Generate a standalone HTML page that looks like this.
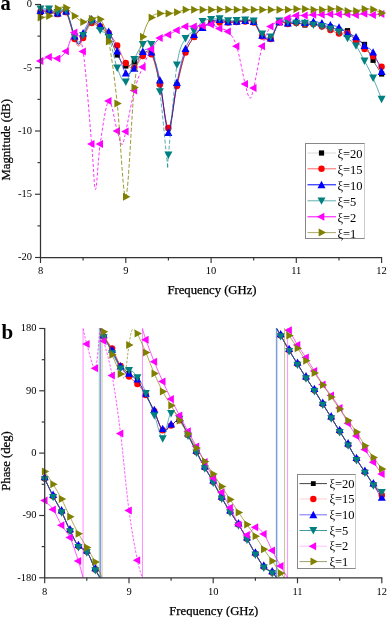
<!DOCTYPE html>
<html><head><meta charset="utf-8"><title>Chart</title>
<style>html,body{margin:0;padding:0;background:#fff;width:388px;height:617px;overflow:hidden}svg{display:block;will-change:transform}</style>
</head><body>
<svg width="388" height="617" viewBox="0 0 388 617">
<defs>
<clipPath id="clipA"><rect x="0" y="0" width="388" height="257"/></clipPath>
<clipPath id="clipB"><rect x="0" y="326" width="388" height="252"/></clipPath>
</defs>
<rect width="388" height="617" fill="#fff"/>
<g clip-path="url(#clipA)">
<path d="M40.50,12.50 C41.92,12.33 46.18,11.17 49.03,11.50 C51.87,11.83 54.71,14.33 57.55,14.50 C60.40,14.67 63.24,8.67 66.08,12.50 C68.93,16.33 72.48,32.25 74.61,37.50 C76.74,42.75 77.45,44.25 78.87,44.00 C80.29,43.75 81.01,39.83 83.14,36.00 C85.27,32.17 88.82,22.50 91.66,21.00 C94.51,19.50 97.35,24.53 100.19,27.00 C103.03,29.47 105.88,31.13 108.72,35.80 C111.56,40.47 114.41,49.97 117.25,55.00 C120.09,60.03 122.93,64.83 125.78,66.00 C128.62,67.17 131.46,64.00 134.30,62.00 C137.14,60.00 139.99,55.50 142.83,54.00 C145.67,52.50 148.52,48.17 151.36,53.00 C154.20,57.83 157.04,70.50 159.89,83.00 C162.73,95.50 165.57,127.67 168.41,128.00 C171.25,128.33 174.10,97.58 176.94,85.00 C179.78,72.42 182.62,60.50 185.47,52.50 C188.31,44.50 191.15,41.13 194.00,37.00 C196.84,32.87 199.68,30.12 202.52,27.70 C205.37,25.28 208.21,23.70 211.05,22.50 C213.89,21.30 216.73,20.50 219.58,20.50 C222.42,20.50 225.26,22.28 228.10,22.50 C230.95,22.72 233.79,22.05 236.63,21.80 C239.48,21.55 242.32,20.97 245.16,21.00 C248.00,21.03 250.85,19.50 253.69,22.00 C256.53,24.50 259.37,33.25 262.21,36.00 C265.06,38.75 267.90,40.83 270.74,38.50 C273.58,36.17 276.43,24.42 279.27,22.00 C282.11,19.58 284.96,23.92 287.80,24.00 C290.64,24.08 293.48,22.33 296.33,22.50 C299.17,22.67 302.01,24.83 304.85,25.00 C307.69,25.17 310.54,23.42 313.38,23.50 C316.22,23.58 319.07,24.92 321.91,25.50 C324.75,26.08 327.59,26.25 330.44,27.00 C333.28,27.75 336.12,29.38 338.96,30.00 C341.81,30.62 344.65,29.03 347.49,30.70 C350.33,32.37 353.17,37.72 356.02,40.00 C358.86,42.28 361.70,41.02 364.55,44.40 C367.39,47.78 370.23,55.37 373.07,60.30 C375.92,65.23 380.18,71.72 381.60,74.00" fill="none" stroke="#000000" stroke-width="0.6"/>
<rect x="37.9" y="9.9" width="5.2" height="5.2" fill="#000000"/>
<rect x="46.4" y="8.9" width="5.2" height="5.2" fill="#000000"/>
<rect x="55.0" y="11.9" width="5.2" height="5.2" fill="#000000"/>
<rect x="63.5" y="9.9" width="5.2" height="5.2" fill="#000000"/>
<rect x="72.0" y="34.9" width="5.2" height="5.2" fill="#000000"/>
<rect x="80.5" y="33.4" width="5.2" height="5.2" fill="#000000"/>
<rect x="89.1" y="18.4" width="5.2" height="5.2" fill="#000000"/>
<rect x="97.6" y="24.4" width="5.2" height="5.2" fill="#000000"/>
<rect x="106.1" y="33.2" width="5.2" height="5.2" fill="#000000"/>
<rect x="114.6" y="52.4" width="5.2" height="5.2" fill="#000000"/>
<rect x="123.2" y="63.4" width="5.2" height="5.2" fill="#000000"/>
<rect x="131.7" y="59.4" width="5.2" height="5.2" fill="#000000"/>
<rect x="140.2" y="51.4" width="5.2" height="5.2" fill="#000000"/>
<rect x="148.8" y="50.4" width="5.2" height="5.2" fill="#000000"/>
<rect x="157.3" y="80.4" width="5.2" height="5.2" fill="#000000"/>
<rect x="165.8" y="125.4" width="5.2" height="5.2" fill="#000000"/>
<rect x="174.3" y="82.4" width="5.2" height="5.2" fill="#000000"/>
<rect x="182.9" y="49.9" width="5.2" height="5.2" fill="#000000"/>
<rect x="191.4" y="34.4" width="5.2" height="5.2" fill="#000000"/>
<rect x="199.9" y="25.1" width="5.2" height="5.2" fill="#000000"/>
<rect x="208.5" y="19.9" width="5.2" height="5.2" fill="#000000"/>
<rect x="217.0" y="17.9" width="5.2" height="5.2" fill="#000000"/>
<rect x="225.5" y="19.9" width="5.2" height="5.2" fill="#000000"/>
<rect x="234.0" y="19.2" width="5.2" height="5.2" fill="#000000"/>
<rect x="242.6" y="18.4" width="5.2" height="5.2" fill="#000000"/>
<rect x="251.1" y="19.4" width="5.2" height="5.2" fill="#000000"/>
<rect x="259.6" y="33.4" width="5.2" height="5.2" fill="#000000"/>
<rect x="268.1" y="35.9" width="5.2" height="5.2" fill="#000000"/>
<rect x="276.7" y="19.4" width="5.2" height="5.2" fill="#000000"/>
<rect x="285.2" y="21.4" width="5.2" height="5.2" fill="#000000"/>
<rect x="293.7" y="19.9" width="5.2" height="5.2" fill="#000000"/>
<rect x="302.3" y="22.4" width="5.2" height="5.2" fill="#000000"/>
<rect x="310.8" y="20.9" width="5.2" height="5.2" fill="#000000"/>
<rect x="319.3" y="22.9" width="5.2" height="5.2" fill="#000000"/>
<rect x="327.8" y="24.4" width="5.2" height="5.2" fill="#000000"/>
<rect x="336.4" y="27.4" width="5.2" height="5.2" fill="#000000"/>
<rect x="344.9" y="28.1" width="5.2" height="5.2" fill="#000000"/>
<rect x="353.4" y="37.4" width="5.2" height="5.2" fill="#000000"/>
<rect x="361.9" y="41.8" width="5.2" height="5.2" fill="#000000"/>
<rect x="370.5" y="57.7" width="5.2" height="5.2" fill="#000000"/>
<rect x="379.0" y="71.4" width="5.2" height="5.2" fill="#000000"/>
<path d="M40.50,11.50 C41.92,11.42 46.18,10.58 49.03,11.00 C51.87,11.42 54.71,13.83 57.55,14.00 C60.40,14.17 63.24,7.83 66.08,12.00 C68.93,16.17 72.48,33.33 74.61,39.00 C76.74,44.67 77.45,46.17 78.87,46.00 C80.29,45.83 81.01,41.83 83.14,38.00 C85.27,34.17 88.82,24.92 91.66,23.00 C94.51,21.08 97.35,24.83 100.19,26.50 C103.03,28.17 105.88,29.83 108.72,33.00 C111.56,36.17 114.41,40.50 117.25,45.50 C120.09,50.50 122.93,59.30 125.78,63.00 C128.62,66.70 131.46,68.87 134.30,67.70 C137.14,66.53 139.99,58.25 142.83,56.00 C145.67,53.75 148.52,49.45 151.36,54.20 C154.20,58.95 157.04,72.20 159.89,84.50 C162.73,96.80 165.57,127.75 168.41,128.00 C171.25,128.25 174.10,98.58 176.94,86.00 C179.78,73.42 182.62,60.67 185.47,52.50 C188.31,44.33 191.15,41.13 194.00,37.00 C196.84,32.87 199.68,30.12 202.52,27.70 C205.37,25.28 208.21,23.37 211.05,22.50 C213.89,21.63 216.73,22.50 219.58,22.50 C222.42,22.50 225.26,22.58 228.10,22.50 C230.95,22.42 233.79,22.17 236.63,22.00 C239.48,21.83 242.32,21.42 245.16,21.50 C248.00,21.58 250.85,20.00 253.69,22.50 C256.53,25.00 259.37,33.75 262.21,36.50 C265.06,39.25 267.90,41.33 270.74,39.00 C273.58,36.67 276.43,25.00 279.27,22.50 C282.11,20.00 284.96,23.92 287.80,24.00 C290.64,24.08 293.48,23.00 296.33,23.00 C299.17,23.00 302.01,23.83 304.85,24.00 C307.69,24.17 310.54,23.58 313.38,24.00 C316.22,24.42 319.07,25.50 321.91,26.50 C324.75,27.50 327.59,28.83 330.44,30.00 C333.28,31.17 336.12,33.00 338.96,33.50 C341.81,34.00 344.65,31.75 347.49,33.00 C350.33,34.25 353.17,38.33 356.02,41.00 C358.86,43.67 361.70,46.47 364.55,49.00 C367.39,51.53 370.23,53.25 373.07,56.20 C375.92,59.15 380.18,64.95 381.60,66.70" fill="none" stroke="#ff0000" stroke-width="0.6"/>
<circle cx="40.5" cy="11.5" r="3.2" fill="#ff0000"/>
<circle cx="49.0" cy="11.0" r="3.2" fill="#ff0000"/>
<circle cx="57.6" cy="14.0" r="3.2" fill="#ff0000"/>
<circle cx="66.1" cy="12.0" r="3.2" fill="#ff0000"/>
<circle cx="74.6" cy="39.0" r="3.2" fill="#ff0000"/>
<circle cx="83.1" cy="38.0" r="3.2" fill="#ff0000"/>
<circle cx="91.7" cy="23.0" r="3.2" fill="#ff0000"/>
<circle cx="100.2" cy="26.5" r="3.2" fill="#ff0000"/>
<circle cx="108.7" cy="33.0" r="3.2" fill="#ff0000"/>
<circle cx="117.2" cy="45.5" r="3.2" fill="#ff0000"/>
<circle cx="125.8" cy="63.0" r="3.2" fill="#ff0000"/>
<circle cx="134.3" cy="67.7" r="3.2" fill="#ff0000"/>
<circle cx="142.8" cy="56.0" r="3.2" fill="#ff0000"/>
<circle cx="151.4" cy="54.2" r="3.2" fill="#ff0000"/>
<circle cx="159.9" cy="84.5" r="3.2" fill="#ff0000"/>
<circle cx="168.4" cy="128.0" r="3.2" fill="#ff0000"/>
<circle cx="176.9" cy="86.0" r="3.2" fill="#ff0000"/>
<circle cx="185.5" cy="52.5" r="3.2" fill="#ff0000"/>
<circle cx="194.0" cy="37.0" r="3.2" fill="#ff0000"/>
<circle cx="202.5" cy="27.7" r="3.2" fill="#ff0000"/>
<circle cx="211.1" cy="22.5" r="3.2" fill="#ff0000"/>
<circle cx="219.6" cy="22.5" r="3.2" fill="#ff0000"/>
<circle cx="228.1" cy="22.5" r="3.2" fill="#ff0000"/>
<circle cx="236.6" cy="22.0" r="3.2" fill="#ff0000"/>
<circle cx="245.2" cy="21.5" r="3.2" fill="#ff0000"/>
<circle cx="253.7" cy="22.5" r="3.2" fill="#ff0000"/>
<circle cx="262.2" cy="36.5" r="3.2" fill="#ff0000"/>
<circle cx="270.7" cy="39.0" r="3.2" fill="#ff0000"/>
<circle cx="279.3" cy="22.5" r="3.2" fill="#ff0000"/>
<circle cx="287.8" cy="24.0" r="3.2" fill="#ff0000"/>
<circle cx="296.3" cy="23.0" r="3.2" fill="#ff0000"/>
<circle cx="304.9" cy="24.0" r="3.2" fill="#ff0000"/>
<circle cx="313.4" cy="24.0" r="3.2" fill="#ff0000"/>
<circle cx="321.9" cy="26.5" r="3.2" fill="#ff0000"/>
<circle cx="330.4" cy="30.0" r="3.2" fill="#ff0000"/>
<circle cx="339.0" cy="33.5" r="3.2" fill="#ff0000"/>
<circle cx="347.5" cy="33.0" r="3.2" fill="#ff0000"/>
<circle cx="356.0" cy="41.0" r="3.2" fill="#ff0000"/>
<circle cx="364.5" cy="49.0" r="3.2" fill="#ff0000"/>
<circle cx="373.1" cy="56.2" r="3.2" fill="#ff0000"/>
<circle cx="381.6" cy="66.7" r="3.2" fill="#ff0000"/>
<path d="M40.50,10.50 C41.92,10.42 46.18,9.58 49.03,10.00 C51.87,10.42 54.71,12.83 57.55,13.00 C60.40,13.17 63.24,7.17 66.08,11.00 C68.93,14.83 72.48,30.50 74.61,36.00 C76.74,41.50 77.45,44.50 78.87,44.00 C80.29,43.50 81.01,37.17 83.14,33.00 C85.27,28.83 88.82,20.25 91.66,19.00 C94.51,17.75 97.35,23.40 100.19,25.50 C103.03,27.60 105.88,27.35 108.72,31.60 C111.56,35.85 114.41,44.10 117.25,51.00 C120.09,57.90 122.93,70.10 125.78,73.00 C128.62,75.90 131.46,71.97 134.30,68.40 C137.14,64.83 139.99,54.30 142.83,51.60 C145.67,48.90 148.52,47.47 151.36,52.20 C154.20,56.93 157.04,66.62 159.89,80.00 C162.73,93.38 165.57,132.08 168.41,132.50 C171.25,132.92 174.10,96.47 176.94,82.50 C179.78,68.53 182.62,56.70 185.47,48.70 C188.31,40.70 191.15,38.00 194.00,34.50 C196.84,31.00 199.68,29.78 202.52,27.70 C205.37,25.62 208.21,23.37 211.05,22.00 C213.89,20.63 216.73,19.52 219.58,19.50 C222.42,19.48 225.26,21.60 228.10,21.90 C230.95,22.20 233.79,21.52 236.63,21.30 C239.48,21.08 242.32,20.55 245.16,20.60 C248.00,20.65 250.85,19.13 253.69,21.60 C256.53,24.07 259.37,32.67 262.21,35.40 C265.06,38.13 267.90,40.25 270.74,38.00 C273.58,35.75 276.43,24.37 279.27,21.90 C282.11,19.43 284.96,23.42 287.80,23.20 C290.64,22.98 293.48,20.72 296.33,20.60 C299.17,20.48 302.01,22.35 304.85,22.50 C307.69,22.65 310.54,21.42 313.38,21.50 C316.22,21.58 319.07,22.42 321.91,23.00 C324.75,23.58 327.59,24.28 330.44,25.00 C333.28,25.72 336.12,25.88 338.96,27.30 C341.81,28.72 344.65,31.90 347.49,33.50 C350.33,35.10 353.17,34.87 356.02,36.90 C358.86,38.93 361.70,43.15 364.55,45.70 C367.39,48.25 370.23,47.88 373.07,52.20 C375.92,56.52 380.18,68.37 381.60,71.60" fill="none" stroke="#0000ff" stroke-width="0.6"/>
<polygon points="40.5,6.5 36.5,13.9 44.5,13.9" fill="#0000ff"/>
<polygon points="49.0,6.0 45.0,13.4 53.0,13.4" fill="#0000ff"/>
<polygon points="57.6,9.0 53.6,16.4 61.6,16.4" fill="#0000ff"/>
<polygon points="66.1,7.0 62.1,14.4 70.1,14.4" fill="#0000ff"/>
<polygon points="74.6,32.0 70.6,39.4 78.6,39.4" fill="#0000ff"/>
<polygon points="83.1,29.0 79.1,36.4 87.1,36.4" fill="#0000ff"/>
<polygon points="91.7,15.0 87.7,22.4 95.7,22.4" fill="#0000ff"/>
<polygon points="100.2,21.5 96.2,28.9 104.2,28.9" fill="#0000ff"/>
<polygon points="108.7,27.6 104.7,35.0 112.7,35.0" fill="#0000ff"/>
<polygon points="117.2,47.0 113.2,54.4 121.2,54.4" fill="#0000ff"/>
<polygon points="125.8,69.0 121.8,76.4 129.8,76.4" fill="#0000ff"/>
<polygon points="134.3,64.4 130.3,71.8 138.3,71.8" fill="#0000ff"/>
<polygon points="142.8,47.6 138.8,55.0 146.8,55.0" fill="#0000ff"/>
<polygon points="151.4,48.2 147.4,55.6 155.4,55.6" fill="#0000ff"/>
<polygon points="159.9,76.0 155.9,83.4 163.9,83.4" fill="#0000ff"/>
<polygon points="168.4,128.5 164.4,135.9 172.4,135.9" fill="#0000ff"/>
<polygon points="176.9,78.5 172.9,85.9 180.9,85.9" fill="#0000ff"/>
<polygon points="185.5,44.7 181.5,52.1 189.5,52.1" fill="#0000ff"/>
<polygon points="194.0,30.5 190.0,37.9 198.0,37.9" fill="#0000ff"/>
<polygon points="202.5,23.7 198.5,31.1 206.5,31.1" fill="#0000ff"/>
<polygon points="211.1,18.0 207.1,25.4 215.1,25.4" fill="#0000ff"/>
<polygon points="219.6,15.5 215.6,22.9 223.6,22.9" fill="#0000ff"/>
<polygon points="228.1,17.9 224.1,25.3 232.1,25.3" fill="#0000ff"/>
<polygon points="236.6,17.3 232.6,24.7 240.6,24.7" fill="#0000ff"/>
<polygon points="245.2,16.6 241.2,24.0 249.2,24.0" fill="#0000ff"/>
<polygon points="253.7,17.6 249.7,25.0 257.7,25.0" fill="#0000ff"/>
<polygon points="262.2,31.4 258.2,38.8 266.2,38.8" fill="#0000ff"/>
<polygon points="270.7,34.0 266.7,41.4 274.7,41.4" fill="#0000ff"/>
<polygon points="279.3,17.9 275.3,25.3 283.3,25.3" fill="#0000ff"/>
<polygon points="287.8,19.2 283.8,26.6 291.8,26.6" fill="#0000ff"/>
<polygon points="296.3,16.6 292.3,24.0 300.3,24.0" fill="#0000ff"/>
<polygon points="304.9,18.5 300.9,25.9 308.9,25.9" fill="#0000ff"/>
<polygon points="313.4,17.5 309.4,24.9 317.4,24.9" fill="#0000ff"/>
<polygon points="321.9,19.0 317.9,26.4 325.9,26.4" fill="#0000ff"/>
<polygon points="330.4,21.0 326.4,28.4 334.4,28.4" fill="#0000ff"/>
<polygon points="339.0,23.3 335.0,30.7 343.0,30.7" fill="#0000ff"/>
<polygon points="347.5,29.5 343.5,36.9 351.5,36.9" fill="#0000ff"/>
<polygon points="356.0,32.9 352.0,40.3 360.0,40.3" fill="#0000ff"/>
<polygon points="364.5,41.7 360.5,49.1 368.5,49.1" fill="#0000ff"/>
<polygon points="373.1,48.2 369.1,55.6 377.1,55.6" fill="#0000ff"/>
<polygon points="381.6,67.6 377.6,75.0 385.6,75.0" fill="#0000ff"/>
<path d="M40.50,9.00 C41.92,9.00 46.18,8.42 49.03,9.00 C51.87,9.58 54.71,12.25 57.55,12.50 C60.40,12.75 63.24,6.42 66.08,10.50 C68.93,14.58 72.48,31.75 74.61,37.00 C76.74,42.25 77.45,42.25 78.87,42.00 C80.29,41.75 81.01,38.83 83.14,35.50 C85.27,32.17 88.82,22.87 91.66,22.00 C94.51,21.13 97.35,27.73 100.19,30.30 C103.03,32.87 105.88,31.12 108.72,37.40" fill="none" stroke="#008080" stroke-width="0.65"/>
<path d="M108.72,37.40 C111.56,43.68 114.41,60.57 117.25,68.00" fill="none" stroke="#008080" stroke-width="0.65" stroke-dasharray="4,2"/>
<path d="M117.25,68.00 C120.09,75.43 122.93,83.45 125.78,82.00 C128.62,80.55 131.46,65.55 134.30,59.30 C137.14,53.05 139.99,46.97 142.83,44.50 C145.67,42.03 148.52,36.65 151.36,44.50" fill="none" stroke="#008080" stroke-width="0.65"/>
<path d="M151.36,44.50 C154.20,52.35 157.26,72.10 159.89,91.60 C162.51,111.10 165.71,150.93 167.13,161.50 C168.55,172.07 166.78,171.12 168.41,155.00 C170.05,138.88 174.10,84.23 176.94,64.80" fill="none" stroke="#008080" stroke-width="0.65" stroke-dasharray="4,2"/>
<path d="M176.94,64.80 C179.78,45.37 182.62,44.03 185.47,38.40 C188.31,32.77 191.15,33.85 194.00,31.00 C196.84,28.15 199.68,23.25 202.52,21.30 C205.37,19.35 208.21,19.73 211.05,19.30 C213.89,18.87 216.73,18.48 219.58,18.70 C222.42,18.92 225.26,20.30 228.10,20.60 C230.95,20.90 233.79,20.60 236.63,20.50 C239.48,20.40 242.32,19.92 245.16,20.00 C248.00,20.08 250.85,18.67 253.69,21.00 C256.53,23.33 259.37,31.33 262.21,34.00 C265.06,36.67 267.90,39.17 270.74,37.00 C273.58,34.83 276.43,23.50 279.27,21.00 C282.11,18.50 284.96,21.63 287.80,22.00 C290.64,22.37 293.48,23.00 296.33,23.20 C299.17,23.40 302.01,22.90 304.85,23.20 C307.69,23.50 310.54,24.45 313.38,25.00 C316.22,25.55 319.07,25.83 321.91,26.50 C324.75,27.17 327.59,28.08 330.44,29.00 C333.28,29.92 336.12,30.45 338.96,32.00 C341.81,33.55 344.65,36.00 347.49,38.30 C350.33,40.60 353.17,42.02 356.02,45.80 C358.86,49.58 361.70,55.63 364.55,61.00 C367.39,66.37 370.23,71.63 373.07,78.00 C375.92,84.37 380.18,95.67 381.60,99.20" fill="none" stroke="#008080" stroke-width="0.65"/>
<polygon points="40.5,13.0 36.5,5.6 44.5,5.6" fill="#008080"/>
<polygon points="49.0,13.0 45.0,5.6 53.0,5.6" fill="#008080"/>
<polygon points="57.6,16.5 53.6,9.1 61.6,9.1" fill="#008080"/>
<polygon points="66.1,14.5 62.1,7.1 70.1,7.1" fill="#008080"/>
<polygon points="74.6,41.0 70.6,33.6 78.6,33.6" fill="#008080"/>
<polygon points="83.1,39.5 79.1,32.1 87.1,32.1" fill="#008080"/>
<polygon points="91.7,26.0 87.7,18.6 95.7,18.6" fill="#008080"/>
<polygon points="100.2,34.3 96.2,26.9 104.2,26.9" fill="#008080"/>
<polygon points="108.7,41.4 104.7,34.0 112.7,34.0" fill="#008080"/>
<polygon points="117.2,72.0 113.2,64.6 121.2,64.6" fill="#008080"/>
<polygon points="125.8,86.0 121.8,78.6 129.8,78.6" fill="#008080"/>
<polygon points="134.3,63.3 130.3,55.9 138.3,55.9" fill="#008080"/>
<polygon points="142.8,48.5 138.8,41.1 146.8,41.1" fill="#008080"/>
<polygon points="151.4,48.5 147.4,41.1 155.4,41.1" fill="#008080"/>
<polygon points="159.9,95.6 155.9,88.2 163.9,88.2" fill="#008080"/>
<polygon points="168.4,159.0 164.4,151.6 172.4,151.6" fill="#008080"/>
<polygon points="176.9,68.8 172.9,61.4 180.9,61.4" fill="#008080"/>
<polygon points="185.5,42.4 181.5,35.0 189.5,35.0" fill="#008080"/>
<polygon points="194.0,35.0 190.0,27.6 198.0,27.6" fill="#008080"/>
<polygon points="202.5,25.3 198.5,17.9 206.5,17.9" fill="#008080"/>
<polygon points="211.1,23.3 207.1,15.9 215.1,15.9" fill="#008080"/>
<polygon points="219.6,22.7 215.6,15.3 223.6,15.3" fill="#008080"/>
<polygon points="228.1,24.6 224.1,17.2 232.1,17.2" fill="#008080"/>
<polygon points="236.6,24.5 232.6,17.1 240.6,17.1" fill="#008080"/>
<polygon points="245.2,24.0 241.2,16.6 249.2,16.6" fill="#008080"/>
<polygon points="253.7,25.0 249.7,17.6 257.7,17.6" fill="#008080"/>
<polygon points="262.2,38.0 258.2,30.6 266.2,30.6" fill="#008080"/>
<polygon points="270.7,41.0 266.7,33.6 274.7,33.6" fill="#008080"/>
<polygon points="279.3,25.0 275.3,17.6 283.3,17.6" fill="#008080"/>
<polygon points="287.8,26.0 283.8,18.6 291.8,18.6" fill="#008080"/>
<polygon points="296.3,27.2 292.3,19.8 300.3,19.8" fill="#008080"/>
<polygon points="304.9,27.2 300.9,19.8 308.9,19.8" fill="#008080"/>
<polygon points="313.4,29.0 309.4,21.6 317.4,21.6" fill="#008080"/>
<polygon points="321.9,30.5 317.9,23.1 325.9,23.1" fill="#008080"/>
<polygon points="330.4,33.0 326.4,25.6 334.4,25.6" fill="#008080"/>
<polygon points="339.0,36.0 335.0,28.6 343.0,28.6" fill="#008080"/>
<polygon points="347.5,42.3 343.5,34.9 351.5,34.9" fill="#008080"/>
<polygon points="356.0,49.8 352.0,42.4 360.0,42.4" fill="#008080"/>
<polygon points="364.5,65.0 360.5,57.6 368.5,57.6" fill="#008080"/>
<polygon points="373.1,82.0 369.1,74.6 377.1,74.6" fill="#008080"/>
<polygon points="381.6,103.2 377.6,95.8 385.6,95.8" fill="#008080"/>
<path d="M40.50,60.90 C41.92,60.25 46.18,57.42 49.03,57.00 C51.87,56.58 54.71,59.35 57.55,58.40 C60.40,57.45 63.24,55.60 66.08,51.30 C68.93,47.00 71.77,32.55 74.61,32.60" fill="none" stroke="#ff00ff" stroke-width="0.8"/>
<path d="M74.61,32.60 C77.45,32.65 80.30,33.03 83.14,51.60 C85.98,70.17 89.60,121.02 91.66,144.00 C93.73,166.98 94.08,189.50 95.50,189.50 C96.92,189.50 97.99,158.75 100.19,144.00 C102.40,129.25 105.88,103.17 108.72,101.00 C111.56,98.83 115.04,123.75 117.25,131.00 C119.45,138.25 120.52,144.40 121.94,144.50 C123.36,144.60 123.71,140.60 125.78,131.60 C127.84,122.60 131.46,101.27 134.30,90.50 C137.14,79.73 139.99,73.92 142.83,67.00 C145.67,60.08 148.52,53.83 151.36,49.00" fill="none" stroke="#ff00ff" stroke-width="0.8" stroke-dasharray="3,2"/>
<path d="M151.36,49.00 C154.20,44.17 157.04,40.37 159.89,38.00 C162.73,35.63 165.57,36.08 168.41,34.80 C171.25,33.52 174.10,31.70 176.94,30.30 C179.78,28.90 182.62,27.05 185.47,26.40 C188.31,25.75 191.15,26.50 194.00,26.40 C196.84,26.30 199.68,26.12 202.52,25.80 C205.37,25.48 208.21,24.07 211.05,24.50 C213.89,24.93 216.73,27.22 219.58,28.40 C222.42,29.58 225.26,28.63 228.10,31.60" fill="none" stroke="#ff00ff" stroke-width="0.8"/>
<path d="M228.10,31.60 C230.95,34.57 233.79,37.45 236.63,46.20 C239.48,54.95 242.96,75.47 245.16,84.10 C247.36,92.73 248.43,97.35 249.85,98.00 C251.27,98.65 251.63,96.62 253.69,88.00 C255.75,79.38 259.37,56.57 262.21,46.30 C265.06,36.03 267.90,30.47 270.74,26.40" fill="none" stroke="#ff00ff" stroke-width="0.8" stroke-dasharray="3,2"/>
<path d="M270.74,26.40 C273.58,22.33 276.43,23.30 279.27,21.90 C282.11,20.50 284.96,19.07 287.80,18.00 C290.64,16.93 293.48,15.92 296.33,15.50 C299.17,15.08 302.01,15.62 304.85,15.50 C307.69,15.38 310.54,14.92 313.38,14.80 C316.22,14.68 319.07,14.90 321.91,14.80 C324.75,14.70 327.59,14.28 330.44,14.20 C333.28,14.12 336.12,14.28 338.96,14.30 C341.81,14.32 344.65,14.18 347.49,14.30 C350.33,14.42 353.17,15.10 356.02,15.00 C358.86,14.90 361.70,13.70 364.55,13.70 C367.39,13.70 370.23,14.95 373.07,15.00 C375.92,15.05 380.18,14.17 381.60,14.00" fill="none" stroke="#ff00ff" stroke-width="0.8"/>
<polygon points="35.9,60.9 43.3,56.9 43.3,64.9" fill="#ff00ff"/>
<polygon points="44.4,57.0 51.8,53.0 51.8,61.0" fill="#ff00ff"/>
<polygon points="53.0,58.4 60.4,54.4 60.4,62.4" fill="#ff00ff"/>
<polygon points="61.5,51.3 68.9,47.3 68.9,55.3" fill="#ff00ff"/>
<polygon points="70.0,32.6 77.4,28.6 77.4,36.6" fill="#ff00ff"/>
<polygon points="78.5,51.6 85.9,47.6 85.9,55.6" fill="#ff00ff"/>
<polygon points="87.1,144.0 94.5,140.0 94.5,148.0" fill="#ff00ff"/>
<polygon points="95.6,144.0 103.0,140.0 103.0,148.0" fill="#ff00ff"/>
<polygon points="104.1,101.0 111.5,97.0 111.5,105.0" fill="#ff00ff"/>
<polygon points="112.6,131.0 120.0,127.0 120.0,135.0" fill="#ff00ff"/>
<polygon points="121.2,131.6 128.6,127.6 128.6,135.6" fill="#ff00ff"/>
<polygon points="129.7,90.5 137.1,86.5 137.1,94.5" fill="#ff00ff"/>
<polygon points="138.2,67.0 145.6,63.0 145.6,71.0" fill="#ff00ff"/>
<polygon points="146.8,49.0 154.2,45.0 154.2,53.0" fill="#ff00ff"/>
<polygon points="155.3,38.0 162.7,34.0 162.7,42.0" fill="#ff00ff"/>
<polygon points="163.8,34.8 171.2,30.8 171.2,38.8" fill="#ff00ff"/>
<polygon points="172.3,30.3 179.7,26.3 179.7,34.3" fill="#ff00ff"/>
<polygon points="180.9,26.4 188.3,22.4 188.3,30.4" fill="#ff00ff"/>
<polygon points="189.4,26.4 196.8,22.4 196.8,30.4" fill="#ff00ff"/>
<polygon points="197.9,25.8 205.3,21.8 205.3,29.8" fill="#ff00ff"/>
<polygon points="206.5,24.5 213.9,20.5 213.9,28.5" fill="#ff00ff"/>
<polygon points="215.0,28.4 222.4,24.4 222.4,32.4" fill="#ff00ff"/>
<polygon points="223.5,31.6 230.9,27.6 230.9,35.6" fill="#ff00ff"/>
<polygon points="232.0,46.2 239.4,42.2 239.4,50.2" fill="#ff00ff"/>
<polygon points="240.6,84.1 248.0,80.1 248.0,88.1" fill="#ff00ff"/>
<polygon points="249.1,88.0 256.5,84.0 256.5,92.0" fill="#ff00ff"/>
<polygon points="257.6,46.3 265.0,42.3 265.0,50.3" fill="#ff00ff"/>
<polygon points="266.1,26.4 273.5,22.4 273.5,30.4" fill="#ff00ff"/>
<polygon points="274.7,21.9 282.1,17.9 282.1,25.9" fill="#ff00ff"/>
<polygon points="283.2,18.0 290.6,14.0 290.6,22.0" fill="#ff00ff"/>
<polygon points="291.7,15.5 299.1,11.5 299.1,19.5" fill="#ff00ff"/>
<polygon points="300.3,15.5 307.7,11.5 307.7,19.5" fill="#ff00ff"/>
<polygon points="308.8,14.8 316.2,10.8 316.2,18.8" fill="#ff00ff"/>
<polygon points="317.3,14.8 324.7,10.8 324.7,18.8" fill="#ff00ff"/>
<polygon points="325.8,14.2 333.2,10.2 333.2,18.2" fill="#ff00ff"/>
<polygon points="334.4,14.3 341.8,10.3 341.8,18.3" fill="#ff00ff"/>
<polygon points="342.9,14.3 350.3,10.3 350.3,18.3" fill="#ff00ff"/>
<polygon points="351.4,15.0 358.8,11.0 358.8,19.0" fill="#ff00ff"/>
<polygon points="359.9,13.7 367.3,9.7 367.3,17.7" fill="#ff00ff"/>
<polygon points="368.5,15.0 375.9,11.0 375.9,19.0" fill="#ff00ff"/>
<polygon points="377.0,14.0 384.4,10.0 384.4,18.0" fill="#ff00ff"/>
<path d="M40.50,17.40 C41.92,17.18 46.18,17.60 49.03,16.10 C51.87,14.60 54.71,9.80 57.55,8.40 C60.40,7.00 63.24,6.42 66.08,7.70 C68.93,8.98 71.77,13.73 74.61,16.10 C77.45,18.47 80.30,21.47 83.14,21.90 C85.98,22.33 88.82,19.13 91.66,18.70 C94.51,18.27 97.35,15.52 100.19,19.30 C103.03,23.08 105.88,27.35 108.72,41.40" fill="none" stroke="#808000" stroke-width="0.8"/>
<path d="M108.72,41.40 C111.56,55.45 114.41,77.70 117.25,103.60 C120.09,129.50 122.93,199.50 125.78,196.80 C128.62,194.10 131.46,114.08 134.30,87.40 C137.14,60.72 139.99,48.37 142.83,36.70" fill="none" stroke="#808000" stroke-width="0.8" stroke-dasharray="4,2"/>
<path d="M142.83,36.70 C145.67,25.03 148.52,21.27 151.36,17.40 C154.20,13.53 157.04,14.15 159.89,13.50 C162.73,12.85 165.57,13.72 168.41,13.50 C171.25,13.28 174.10,12.83 176.94,12.20 C179.78,11.57 182.62,10.12 185.47,9.70 C188.31,9.28 191.15,9.70 194.00,9.70 C196.84,9.70 199.68,9.70 202.52,9.70 C205.37,9.70 208.21,9.73 211.05,9.70 C213.89,9.67 216.73,9.53 219.58,9.50 C222.42,9.47 225.26,9.47 228.10,9.50 C230.95,9.53 233.79,9.67 236.63,9.70 C239.48,9.73 242.32,9.70 245.16,9.70 C248.00,9.70 250.85,9.70 253.69,9.70 C256.53,9.70 259.37,9.70 262.21,9.70 C265.06,9.70 267.90,9.70 270.74,9.70 C273.58,9.70 276.43,9.70 279.27,9.70 C282.11,9.70 284.96,9.82 287.80,9.70 C290.64,9.58 293.48,9.12 296.33,9.00 C299.17,8.88 302.01,8.88 304.85,9.00 C307.69,9.12 310.54,9.58 313.38,9.70 C316.22,9.82 319.07,9.82 321.91,9.70 C324.75,9.58 327.59,9.12 330.44,9.00 C333.28,8.88 336.12,8.68 338.96,9.00 C341.81,9.32 344.65,10.58 347.49,10.90 C350.33,11.22 353.17,11.23 356.02,10.90 C358.86,10.57 361.70,9.12 364.55,8.90 C367.39,8.68 370.23,8.92 373.07,9.60 C375.92,10.28 380.18,12.43 381.60,13.00" fill="none" stroke="#808000" stroke-width="0.8"/>
<polygon points="45.1,17.4 37.7,13.4 37.7,21.4" fill="#808000"/>
<polygon points="53.6,16.1 46.2,12.1 46.2,20.1" fill="#808000"/>
<polygon points="62.2,8.4 54.8,4.4 54.8,12.4" fill="#808000"/>
<polygon points="70.7,7.7 63.3,3.7 63.3,11.7" fill="#808000"/>
<polygon points="79.2,16.1 71.8,12.1 71.8,20.1" fill="#808000"/>
<polygon points="87.7,21.9 80.3,17.9 80.3,25.9" fill="#808000"/>
<polygon points="96.3,18.7 88.9,14.7 88.9,22.7" fill="#808000"/>
<polygon points="104.8,19.3 97.4,15.3 97.4,23.3" fill="#808000"/>
<polygon points="113.3,41.4 105.9,37.4 105.9,45.4" fill="#808000"/>
<polygon points="121.8,103.6 114.4,99.6 114.4,107.6" fill="#808000"/>
<polygon points="130.4,196.8 123.0,192.8 123.0,200.8" fill="#808000"/>
<polygon points="138.9,87.4 131.5,83.4 131.5,91.4" fill="#808000"/>
<polygon points="147.4,36.7 140.0,32.7 140.0,40.7" fill="#808000"/>
<polygon points="156.0,17.4 148.6,13.4 148.6,21.4" fill="#808000"/>
<polygon points="164.5,13.5 157.1,9.5 157.1,17.5" fill="#808000"/>
<polygon points="173.0,13.5 165.6,9.5 165.6,17.5" fill="#808000"/>
<polygon points="181.5,12.2 174.1,8.2 174.1,16.2" fill="#808000"/>
<polygon points="190.1,9.7 182.7,5.7 182.7,13.7" fill="#808000"/>
<polygon points="198.6,9.7 191.2,5.7 191.2,13.7" fill="#808000"/>
<polygon points="207.1,9.7 199.7,5.7 199.7,13.7" fill="#808000"/>
<polygon points="215.7,9.7 208.2,5.7 208.2,13.7" fill="#808000"/>
<polygon points="224.2,9.5 216.8,5.5 216.8,13.5" fill="#808000"/>
<polygon points="232.7,9.5 225.3,5.5 225.3,13.5" fill="#808000"/>
<polygon points="241.2,9.7 233.8,5.7 233.8,13.7" fill="#808000"/>
<polygon points="249.8,9.7 242.4,5.7 242.4,13.7" fill="#808000"/>
<polygon points="258.3,9.7 250.9,5.7 250.9,13.7" fill="#808000"/>
<polygon points="266.8,9.7 259.4,5.7 259.4,13.7" fill="#808000"/>
<polygon points="275.3,9.7 267.9,5.7 267.9,13.7" fill="#808000"/>
<polygon points="283.9,9.7 276.5,5.7 276.5,13.7" fill="#808000"/>
<polygon points="292.4,9.7 285.0,5.7 285.0,13.7" fill="#808000"/>
<polygon points="300.9,9.0 293.5,5.0 293.5,13.0" fill="#808000"/>
<polygon points="309.5,9.0 302.1,5.0 302.1,13.0" fill="#808000"/>
<polygon points="318.0,9.7 310.6,5.7 310.6,13.7" fill="#808000"/>
<polygon points="326.5,9.7 319.1,5.7 319.1,13.7" fill="#808000"/>
<polygon points="335.0,9.0 327.6,5.0 327.6,13.0" fill="#808000"/>
<polygon points="343.6,9.0 336.2,5.0 336.2,13.0" fill="#808000"/>
<polygon points="352.1,10.9 344.7,6.9 344.7,14.9" fill="#808000"/>
<polygon points="360.6,10.9 353.2,6.9 353.2,14.9" fill="#808000"/>
<polygon points="369.1,8.9 361.7,4.9 361.7,12.9" fill="#808000"/>
<polygon points="377.7,9.6 370.3,5.6 370.3,13.6" fill="#808000"/>
<polygon points="386.2,13.0 378.8,9.0 378.8,17.0" fill="#808000"/>
</g>
<g clip-path="url(#clipB)">
<path d="M44.70,478.50 C46.10,481.45 50.32,490.68 53.13,496.20 C55.94,501.72 58.75,505.88 61.55,511.60 C64.36,517.32 67.17,524.72 69.98,530.50 C72.79,536.28 75.60,542.78 78.41,546.30 C81.22,549.82 84.03,547.73 86.84,551.60 C89.65,555.47 93.05,565.13 95.26,569.50 C97.48,573.87 99.34,576.42 100.15,577.80" fill="none" stroke="#000000" stroke-width="0.6"/>
<path d="M100.15,328.50 C100.74,329.83 101.70,332.75 103.69,336.50 C105.69,340.25 109.31,346.08 112.12,351.00 C114.93,355.92 117.74,362.27 120.55,366.00 C123.36,369.73 126.17,371.07 128.98,373.40 C131.78,375.73 134.59,376.40 137.40,380.00 C140.21,383.60 143.02,389.78 145.83,395.00 C148.64,400.22 151.45,405.42 154.26,411.30 C157.07,417.18 159.88,427.92 162.69,430.30 C165.49,432.68 168.30,427.28 171.11,425.60 C173.92,423.92 176.73,418.67 179.54,420.20 C182.35,421.73 185.16,429.52 187.97,434.80 C190.78,440.08 193.59,446.43 196.40,451.90 C199.20,457.37 202.01,462.62 204.82,467.60 C207.63,472.58 210.44,476.75 213.25,481.80 C216.06,486.85 218.87,492.93 221.68,497.90 C224.49,502.87 227.30,507.15 230.10,511.60 C232.91,516.05 235.72,520.07 238.53,524.60 C241.34,529.13 244.15,533.93 246.96,538.80 C249.77,543.67 252.58,549.13 255.39,553.80 C258.20,558.47 261.01,563.68 263.81,566.80 C266.62,569.92 270.11,570.67 272.24,572.50 C274.38,574.33 275.89,576.92 276.62,577.80" fill="none" stroke="#000000" stroke-width="0.6"/>
<path d="M276.62,328.50 C277.30,329.67 278.59,331.87 280.67,335.50 C282.75,339.13 286.29,345.55 289.10,350.30 C291.91,355.05 294.72,359.45 297.53,364.00 C300.33,368.55 303.14,373.22 305.95,377.60 C308.76,381.98 311.57,385.90 314.38,390.30 C317.19,394.70 320.00,399.45 322.81,404.00 C325.62,408.55 328.43,413.05 331.24,417.60 C334.04,422.15 336.85,426.78 339.66,431.30 C342.47,435.82 345.28,440.03 348.09,444.70 C350.90,449.37 353.71,454.75 356.52,459.30 C359.33,463.85 362.14,467.78 364.95,472.00 C367.75,476.22 370.56,480.72 373.37,484.60 C376.18,488.48 380.40,493.52 381.80,495.30" fill="none" stroke="#000000" stroke-width="0.6"/>
<rect x="42.3" y="476.1" width="4.8" height="4.8" fill="#000000"/>
<rect x="50.7" y="493.8" width="4.8" height="4.8" fill="#000000"/>
<rect x="59.2" y="509.2" width="4.8" height="4.8" fill="#000000"/>
<rect x="67.6" y="528.1" width="4.8" height="4.8" fill="#000000"/>
<rect x="76.0" y="543.9" width="4.8" height="4.8" fill="#000000"/>
<rect x="84.4" y="549.2" width="4.8" height="4.8" fill="#000000"/>
<rect x="92.9" y="567.1" width="4.8" height="4.8" fill="#000000"/>
<rect x="101.3" y="334.1" width="4.8" height="4.8" fill="#000000"/>
<rect x="109.7" y="348.6" width="4.8" height="4.8" fill="#000000"/>
<rect x="118.1" y="363.6" width="4.8" height="4.8" fill="#000000"/>
<rect x="126.6" y="371.0" width="4.8" height="4.8" fill="#000000"/>
<rect x="135.0" y="377.6" width="4.8" height="4.8" fill="#000000"/>
<rect x="143.4" y="392.6" width="4.8" height="4.8" fill="#000000"/>
<rect x="151.9" y="408.9" width="4.8" height="4.8" fill="#000000"/>
<rect x="160.3" y="427.9" width="4.8" height="4.8" fill="#000000"/>
<rect x="168.7" y="423.2" width="4.8" height="4.8" fill="#000000"/>
<rect x="177.1" y="417.8" width="4.8" height="4.8" fill="#000000"/>
<rect x="185.6" y="432.4" width="4.8" height="4.8" fill="#000000"/>
<rect x="194.0" y="449.5" width="4.8" height="4.8" fill="#000000"/>
<rect x="202.4" y="465.2" width="4.8" height="4.8" fill="#000000"/>
<rect x="210.8" y="479.4" width="4.8" height="4.8" fill="#000000"/>
<rect x="219.3" y="495.5" width="4.8" height="4.8" fill="#000000"/>
<rect x="227.7" y="509.2" width="4.8" height="4.8" fill="#000000"/>
<rect x="236.1" y="522.2" width="4.8" height="4.8" fill="#000000"/>
<rect x="244.6" y="536.4" width="4.8" height="4.8" fill="#000000"/>
<rect x="253.0" y="551.4" width="4.8" height="4.8" fill="#000000"/>
<rect x="261.4" y="564.4" width="4.8" height="4.8" fill="#000000"/>
<rect x="269.8" y="570.1" width="4.8" height="4.8" fill="#000000"/>
<rect x="278.3" y="333.1" width="4.8" height="4.8" fill="#000000"/>
<rect x="286.7" y="347.9" width="4.8" height="4.8" fill="#000000"/>
<rect x="295.1" y="361.6" width="4.8" height="4.8" fill="#000000"/>
<rect x="303.6" y="375.2" width="4.8" height="4.8" fill="#000000"/>
<rect x="312.0" y="387.9" width="4.8" height="4.8" fill="#000000"/>
<rect x="320.4" y="401.6" width="4.8" height="4.8" fill="#000000"/>
<rect x="328.8" y="415.2" width="4.8" height="4.8" fill="#000000"/>
<rect x="337.3" y="428.9" width="4.8" height="4.8" fill="#000000"/>
<rect x="345.7" y="442.3" width="4.8" height="4.8" fill="#000000"/>
<rect x="354.1" y="456.9" width="4.8" height="4.8" fill="#000000"/>
<rect x="362.5" y="469.6" width="4.8" height="4.8" fill="#000000"/>
<rect x="371.0" y="482.2" width="4.8" height="4.8" fill="#000000"/>
<rect x="379.4" y="492.9" width="4.8" height="4.8" fill="#000000"/>
<path d="M44.70,478.50 C46.10,481.45 50.32,490.68 53.13,496.20 C55.94,501.72 58.75,505.88 61.55,511.60 C64.36,517.32 67.17,524.72 69.98,530.50 C72.79,536.28 75.60,542.78 78.41,546.30 C81.22,549.82 84.03,547.73 86.84,551.60 C89.65,555.47 93.05,565.13 95.26,569.50 C97.48,573.87 99.34,576.42 100.15,577.80" fill="none" stroke="#ff0000" stroke-width="0.6"/>
<path d="M100.15,328.50 C100.74,329.83 101.70,333.17 103.69,336.50 C105.69,339.83 109.31,343.58 112.12,348.50 C114.93,353.42 117.74,361.32 120.55,366.00 C123.36,370.68 126.17,373.60 128.98,376.60 C131.78,379.60 134.59,380.93 137.40,384.00 C140.21,387.07 143.02,390.45 145.83,395.00 C148.64,399.55 151.45,405.42 154.26,411.30 C157.07,417.18 159.88,427.92 162.69,430.30 C165.49,432.68 168.30,427.28 171.11,425.60 C173.92,423.92 176.73,418.67 179.54,420.20 C182.35,421.73 185.16,429.52 187.97,434.80 C190.78,440.08 193.59,446.43 196.40,451.90 C199.20,457.37 202.01,462.62 204.82,467.60 C207.63,472.58 210.44,476.75 213.25,481.80 C216.06,486.85 218.87,492.93 221.68,497.90 C224.49,502.87 227.30,507.15 230.10,511.60 C232.91,516.05 235.72,520.07 238.53,524.60 C241.34,529.13 244.15,533.93 246.96,538.80 C249.77,543.67 252.58,549.13 255.39,553.80 C258.20,558.47 261.01,563.68 263.81,566.80 C266.62,569.92 270.11,570.67 272.24,572.50 C274.38,574.33 275.89,576.92 276.62,577.80" fill="none" stroke="#ff0000" stroke-width="0.6"/>
<path d="M276.62,328.50 C277.30,329.67 278.59,331.87 280.67,335.50 C282.75,339.13 286.29,345.55 289.10,350.30 C291.91,355.05 294.72,359.45 297.53,364.00 C300.33,368.55 303.14,373.22 305.95,377.60 C308.76,381.98 311.57,385.90 314.38,390.30 C317.19,394.70 320.00,399.45 322.81,404.00 C325.62,408.55 328.43,413.05 331.24,417.60 C334.04,422.15 336.85,426.78 339.66,431.30 C342.47,435.82 345.28,440.03 348.09,444.70 C350.90,449.37 353.71,454.75 356.52,459.30 C359.33,463.85 362.14,467.78 364.95,472.00 C367.75,476.22 370.56,480.72 373.37,484.60 C376.18,488.48 380.40,493.52 381.80,495.30" fill="none" stroke="#ff0000" stroke-width="0.6"/>
<circle cx="44.7" cy="478.5" r="3.2" fill="#ff0000"/>
<circle cx="53.1" cy="496.2" r="3.2" fill="#ff0000"/>
<circle cx="61.6" cy="511.6" r="3.2" fill="#ff0000"/>
<circle cx="70.0" cy="530.5" r="3.2" fill="#ff0000"/>
<circle cx="78.4" cy="546.3" r="3.2" fill="#ff0000"/>
<circle cx="86.8" cy="551.6" r="3.2" fill="#ff0000"/>
<circle cx="95.3" cy="569.5" r="3.2" fill="#ff0000"/>
<circle cx="103.7" cy="336.5" r="3.2" fill="#ff0000"/>
<circle cx="112.1" cy="348.5" r="3.2" fill="#ff0000"/>
<circle cx="120.5" cy="366.0" r="3.2" fill="#ff0000"/>
<circle cx="129.0" cy="376.6" r="3.2" fill="#ff0000"/>
<circle cx="137.4" cy="384.0" r="3.2" fill="#ff0000"/>
<circle cx="145.8" cy="395.0" r="3.2" fill="#ff0000"/>
<circle cx="154.3" cy="411.3" r="3.2" fill="#ff0000"/>
<circle cx="162.7" cy="430.3" r="3.2" fill="#ff0000"/>
<circle cx="171.1" cy="425.6" r="3.2" fill="#ff0000"/>
<circle cx="179.5" cy="420.2" r="3.2" fill="#ff0000"/>
<circle cx="188.0" cy="434.8" r="3.2" fill="#ff0000"/>
<circle cx="196.4" cy="451.9" r="3.2" fill="#ff0000"/>
<circle cx="204.8" cy="467.6" r="3.2" fill="#ff0000"/>
<circle cx="213.2" cy="481.8" r="3.2" fill="#ff0000"/>
<circle cx="221.7" cy="497.9" r="3.2" fill="#ff0000"/>
<circle cx="230.1" cy="511.6" r="3.2" fill="#ff0000"/>
<circle cx="238.5" cy="524.6" r="3.2" fill="#ff0000"/>
<circle cx="247.0" cy="538.8" r="3.2" fill="#ff0000"/>
<circle cx="255.4" cy="553.8" r="3.2" fill="#ff0000"/>
<circle cx="263.8" cy="566.8" r="3.2" fill="#ff0000"/>
<circle cx="272.2" cy="572.5" r="3.2" fill="#ff0000"/>
<circle cx="280.7" cy="335.5" r="3.2" fill="#ff0000"/>
<circle cx="289.1" cy="350.3" r="3.2" fill="#ff0000"/>
<circle cx="297.5" cy="364.0" r="3.2" fill="#ff0000"/>
<circle cx="306.0" cy="377.6" r="3.2" fill="#ff0000"/>
<circle cx="314.4" cy="390.3" r="3.2" fill="#ff0000"/>
<circle cx="322.8" cy="404.0" r="3.2" fill="#ff0000"/>
<circle cx="331.2" cy="417.6" r="3.2" fill="#ff0000"/>
<circle cx="339.7" cy="431.3" r="3.2" fill="#ff0000"/>
<circle cx="348.1" cy="444.7" r="3.2" fill="#ff0000"/>
<circle cx="356.5" cy="459.3" r="3.2" fill="#ff0000"/>
<circle cx="364.9" cy="472.0" r="3.2" fill="#ff0000"/>
<circle cx="373.4" cy="484.6" r="3.2" fill="#ff0000"/>
<circle cx="381.8" cy="495.3" r="3.2" fill="#ff0000"/>
<path d="M44.70,478.50 C46.10,481.45 50.32,490.68 53.13,496.20 C55.94,501.72 58.75,505.88 61.55,511.60 C64.36,517.32 67.17,524.72 69.98,530.50 C72.79,536.28 75.60,542.78 78.41,546.30 C81.22,549.82 84.03,547.73 86.84,551.60 C89.65,555.47 92.99,565.13 95.26,569.50 C97.54,573.87 99.62,576.42 100.49,577.80" fill="none" stroke="#0000ff" stroke-width="0.6"/>
<path d="M100.49,577.80 L100.49,328.50" fill="none" stroke="#0000ff" stroke-width="0.45"/>
<path d="M100.49,328.50 C101.02,329.83 101.75,332.75 103.69,336.50 C105.63,340.25 109.31,345.80 112.12,351.00 C114.93,356.20 117.74,363.70 120.55,367.70 C123.36,371.70 126.17,372.82 128.98,375.00 C131.78,377.18 134.59,377.47 137.40,380.80 C140.21,384.13 143.02,389.92 145.83,395.00 C148.64,400.08 151.45,405.42 154.26,411.30 C157.07,417.18 159.88,427.92 162.69,430.30 C165.49,432.68 168.30,427.28 171.11,425.60 C173.92,423.92 176.73,418.67 179.54,420.20 C182.35,421.73 185.16,429.52 187.97,434.80 C190.78,440.08 193.59,446.43 196.40,451.90 C199.20,457.37 202.01,462.62 204.82,467.60 C207.63,472.58 210.44,476.75 213.25,481.80 C216.06,486.85 218.87,492.93 221.68,497.90 C224.49,502.87 227.30,507.15 230.10,511.60 C232.91,516.05 235.72,520.07 238.53,524.60 C241.34,529.13 244.15,533.93 246.96,538.80 C249.77,543.67 252.58,549.13 255.39,553.80 C258.20,558.47 261.01,563.68 263.81,566.80 C266.62,569.92 270.07,570.67 272.24,572.50 C274.42,574.33 276.11,576.92 276.88,577.80" fill="none" stroke="#0000ff" stroke-width="0.6"/>
<path d="M276.88,577.80 L276.88,328.50" fill="none" stroke="#0000ff" stroke-width="0.45"/>
<path d="M276.88,328.50 C277.51,329.67 278.63,331.87 280.67,335.50 C282.71,339.13 286.29,345.55 289.10,350.30 C291.91,355.05 294.72,359.45 297.53,364.00 C300.33,368.55 303.14,373.22 305.95,377.60 C308.76,381.98 311.57,385.90 314.38,390.30 C317.19,394.70 320.00,399.45 322.81,404.00 C325.62,408.55 328.43,413.05 331.24,417.60 C334.04,422.15 336.85,426.78 339.66,431.30 C342.47,435.82 345.28,440.03 348.09,444.70 C350.90,449.37 353.71,454.75 356.52,459.30 C359.33,463.85 362.14,467.78 364.95,472.00 C367.75,476.22 370.56,480.10 373.37,484.60 C376.18,489.10 380.40,496.60 381.80,499.00" fill="none" stroke="#0000ff" stroke-width="0.6"/>
<polygon points="44.7,472.9 40.7,480.3 48.7,480.3" fill="#0000ff"/>
<polygon points="53.1,490.6 49.1,498.0 57.1,498.0" fill="#0000ff"/>
<polygon points="61.6,506.0 57.6,513.4 65.6,513.4" fill="#0000ff"/>
<polygon points="70.0,524.9 66.0,532.3 74.0,532.3" fill="#0000ff"/>
<polygon points="78.4,540.7 74.4,548.1 82.4,548.1" fill="#0000ff"/>
<polygon points="86.8,546.0 82.8,553.4 90.8,553.4" fill="#0000ff"/>
<polygon points="95.3,563.9 91.3,571.3 99.3,571.3" fill="#0000ff"/>
<polygon points="103.7,330.9 99.7,338.3 107.7,338.3" fill="#0000ff"/>
<polygon points="112.1,345.4 108.1,352.8 116.1,352.8" fill="#0000ff"/>
<polygon points="120.5,362.1 116.5,369.5 124.5,369.5" fill="#0000ff"/>
<polygon points="129.0,369.4 125.0,376.8 133.0,376.8" fill="#0000ff"/>
<polygon points="137.4,375.2 133.4,382.6 141.4,382.6" fill="#0000ff"/>
<polygon points="145.8,389.4 141.8,396.8 149.8,396.8" fill="#0000ff"/>
<polygon points="154.3,405.7 150.3,413.1 158.3,413.1" fill="#0000ff"/>
<polygon points="162.7,424.7 158.7,432.1 166.7,432.1" fill="#0000ff"/>
<polygon points="171.1,420.0 167.1,427.4 175.1,427.4" fill="#0000ff"/>
<polygon points="179.5,414.6 175.5,422.0 183.5,422.0" fill="#0000ff"/>
<polygon points="188.0,429.2 184.0,436.6 192.0,436.6" fill="#0000ff"/>
<polygon points="196.4,446.3 192.4,453.7 200.4,453.7" fill="#0000ff"/>
<polygon points="204.8,462.0 200.8,469.4 208.8,469.4" fill="#0000ff"/>
<polygon points="213.2,476.2 209.2,483.6 217.2,483.6" fill="#0000ff"/>
<polygon points="221.7,492.3 217.7,499.7 225.7,499.7" fill="#0000ff"/>
<polygon points="230.1,506.0 226.1,513.4 234.1,513.4" fill="#0000ff"/>
<polygon points="238.5,519.0 234.5,526.4 242.5,526.4" fill="#0000ff"/>
<polygon points="247.0,533.2 243.0,540.6 251.0,540.6" fill="#0000ff"/>
<polygon points="255.4,548.2 251.4,555.6 259.4,555.6" fill="#0000ff"/>
<polygon points="263.8,561.2 259.8,568.6 267.8,568.6" fill="#0000ff"/>
<polygon points="272.2,566.9 268.2,574.3 276.2,574.3" fill="#0000ff"/>
<polygon points="280.7,329.9 276.7,337.3 284.7,337.3" fill="#0000ff"/>
<polygon points="289.1,344.7 285.1,352.1 293.1,352.1" fill="#0000ff"/>
<polygon points="297.5,358.4 293.5,365.8 301.5,365.8" fill="#0000ff"/>
<polygon points="306.0,372.0 302.0,379.4 310.0,379.4" fill="#0000ff"/>
<polygon points="314.4,384.7 310.4,392.1 318.4,392.1" fill="#0000ff"/>
<polygon points="322.8,398.4 318.8,405.8 326.8,405.8" fill="#0000ff"/>
<polygon points="331.2,412.0 327.2,419.4 335.2,419.4" fill="#0000ff"/>
<polygon points="339.7,425.7 335.7,433.1 343.7,433.1" fill="#0000ff"/>
<polygon points="348.1,439.1 344.1,446.5 352.1,446.5" fill="#0000ff"/>
<polygon points="356.5,453.7 352.5,461.1 360.5,461.1" fill="#0000ff"/>
<polygon points="364.9,466.4 360.9,473.8 368.9,473.8" fill="#0000ff"/>
<polygon points="373.4,479.0 369.4,486.4 377.4,486.4" fill="#0000ff"/>
<polygon points="381.8,493.4 377.8,500.8 385.8,500.8" fill="#0000ff"/>
<path d="M44.70,478.50 C46.10,481.45 50.32,490.68 53.13,496.20 C55.94,501.72 58.75,505.88 61.55,511.60 C64.36,517.32 67.17,524.72 69.98,530.50 C72.79,536.28 75.60,542.78 78.41,546.30 C81.22,549.82 84.03,547.73 86.84,551.60 C89.65,555.47 93.19,565.13 95.26,569.50 C97.34,573.87 98.64,576.42 99.31,577.80" fill="none" stroke="#008080" stroke-width="0.6"/>
<path d="M99.31,577.80 L99.31,328.50" fill="none" stroke="#008080" stroke-width="0.45"/>
<path d="M99.31,328.50 C100.04,329.83 101.56,332.50 103.69,336.50 C105.83,340.50 109.31,347.30 112.12,352.50 C114.93,357.70 117.74,364.92 120.55,367.70 C123.36,370.48 126.17,367.72 128.98,369.20 C131.78,370.68 134.59,372.73 137.40,376.60 C140.21,380.47 143.02,386.08 145.83,392.40 C148.64,398.72 151.45,406.97 154.26,414.50 C157.07,422.03 159.88,437.95 162.69,437.60 C165.49,437.25 168.30,415.67 171.11,412.40 C173.92,409.13 176.73,414.27 179.54,418.00 C182.35,421.73 185.16,429.15 187.97,434.80 C190.78,440.45 193.59,446.43 196.40,451.90 C199.20,457.37 202.01,462.62 204.82,467.60 C207.63,472.58 210.44,476.75 213.25,481.80 C216.06,486.85 218.87,492.93 221.68,497.90 C224.49,502.87 227.30,507.15 230.10,511.60 C232.91,516.05 235.72,520.07 238.53,524.60 C241.34,529.13 244.15,533.93 246.96,538.80 C249.77,543.67 252.58,549.13 255.39,553.80 C258.20,558.47 261.01,563.68 263.81,566.80 C266.62,569.92 270.16,570.67 272.24,572.50 C274.32,574.33 275.61,576.92 276.29,577.80" fill="none" stroke="#008080" stroke-width="0.6"/>
<path d="M276.29,577.80 L276.29,328.50" fill="none" stroke="#008080" stroke-width="0.45"/>
<path d="M276.29,328.50 C277.02,329.67 278.54,331.87 280.67,335.50 C282.80,339.13 286.29,345.55 289.10,350.30 C291.91,355.05 294.72,359.45 297.53,364.00 C300.33,368.55 303.14,373.22 305.95,377.60 C308.76,381.98 311.57,385.90 314.38,390.30 C317.19,394.70 320.00,399.45 322.81,404.00 C325.62,408.55 328.43,413.05 331.24,417.60 C334.04,422.15 336.85,426.78 339.66,431.30 C342.47,435.82 345.28,440.03 348.09,444.70 C350.90,449.37 353.71,454.75 356.52,459.30 C359.33,463.85 362.14,467.78 364.95,472.00 C367.75,476.22 370.56,481.37 373.37,484.60 C376.18,487.83 380.40,490.27 381.80,491.40" fill="none" stroke="#008080" stroke-width="0.6"/>
<polygon points="44.7,483.6 40.7,476.2 48.7,476.2" fill="#008080"/>
<polygon points="53.1,501.3 49.1,493.9 57.1,493.9" fill="#008080"/>
<polygon points="61.6,516.7 57.6,509.3 65.6,509.3" fill="#008080"/>
<polygon points="70.0,535.6 66.0,528.2 74.0,528.2" fill="#008080"/>
<polygon points="78.4,551.4 74.4,544.0 82.4,544.0" fill="#008080"/>
<polygon points="86.8,556.7 82.8,549.3 90.8,549.3" fill="#008080"/>
<polygon points="95.3,574.6 91.3,567.2 99.3,567.2" fill="#008080"/>
<polygon points="103.7,341.6 99.7,334.2 107.7,334.2" fill="#008080"/>
<polygon points="112.1,357.6 108.1,350.2 116.1,350.2" fill="#008080"/>
<polygon points="120.5,372.8 116.5,365.4 124.5,365.4" fill="#008080"/>
<polygon points="129.0,374.3 125.0,366.9 133.0,366.9" fill="#008080"/>
<polygon points="137.4,381.7 133.4,374.3 141.4,374.3" fill="#008080"/>
<polygon points="145.8,397.5 141.8,390.1 149.8,390.1" fill="#008080"/>
<polygon points="154.3,419.6 150.3,412.2 158.3,412.2" fill="#008080"/>
<polygon points="162.7,442.7 158.7,435.3 166.7,435.3" fill="#008080"/>
<polygon points="171.1,417.5 167.1,410.1 175.1,410.1" fill="#008080"/>
<polygon points="179.5,423.1 175.5,415.7 183.5,415.7" fill="#008080"/>
<polygon points="188.0,439.9 184.0,432.5 192.0,432.5" fill="#008080"/>
<polygon points="196.4,457.0 192.4,449.6 200.4,449.6" fill="#008080"/>
<polygon points="204.8,472.7 200.8,465.3 208.8,465.3" fill="#008080"/>
<polygon points="213.2,486.9 209.2,479.5 217.2,479.5" fill="#008080"/>
<polygon points="221.7,503.0 217.7,495.6 225.7,495.6" fill="#008080"/>
<polygon points="230.1,516.7 226.1,509.3 234.1,509.3" fill="#008080"/>
<polygon points="238.5,529.7 234.5,522.3 242.5,522.3" fill="#008080"/>
<polygon points="247.0,543.9 243.0,536.5 251.0,536.5" fill="#008080"/>
<polygon points="255.4,558.9 251.4,551.5 259.4,551.5" fill="#008080"/>
<polygon points="263.8,571.9 259.8,564.5 267.8,564.5" fill="#008080"/>
<polygon points="272.2,577.6 268.2,570.2 276.2,570.2" fill="#008080"/>
<polygon points="280.7,340.6 276.7,333.2 284.7,333.2" fill="#008080"/>
<polygon points="289.1,355.4 285.1,348.0 293.1,348.0" fill="#008080"/>
<polygon points="297.5,369.1 293.5,361.7 301.5,361.7" fill="#008080"/>
<polygon points="306.0,382.7 302.0,375.3 310.0,375.3" fill="#008080"/>
<polygon points="314.4,395.4 310.4,388.0 318.4,388.0" fill="#008080"/>
<polygon points="322.8,409.1 318.8,401.7 326.8,401.7" fill="#008080"/>
<polygon points="331.2,422.7 327.2,415.3 335.2,415.3" fill="#008080"/>
<polygon points="339.7,436.4 335.7,429.0 343.7,429.0" fill="#008080"/>
<polygon points="348.1,449.8 344.1,442.4 352.1,442.4" fill="#008080"/>
<polygon points="356.5,464.4 352.5,457.0 360.5,457.0" fill="#008080"/>
<polygon points="364.9,477.1 360.9,469.7 368.9,469.7" fill="#008080"/>
<polygon points="373.4,489.7 369.4,482.3 377.4,482.3" fill="#008080"/>
<polygon points="381.8,496.5 377.8,489.1 385.8,489.1" fill="#008080"/>
<path d="M44.70,500.40 C46.10,501.92 50.32,505.35 53.13,509.50 C55.94,513.65 58.75,520.63 61.55,525.30 C64.36,529.97 67.17,531.55 69.98,537.50 C72.79,543.45 76.23,554.28 78.41,561.00 C80.59,567.72 82.27,575.00 83.05,577.80" fill="none" stroke="#ff00ff" stroke-width="0.65"/>
<path d="M83.05,577.80 L83.05,328.50" fill="none" stroke="#ff00ff" stroke-width="0.45"/>
<path d="M83.05,328.50 C83.68,331.08 84.80,337.38 86.84,344.00 C88.87,350.62 93.02,370.62 95.26,368.20 C97.51,365.78 98.92,334.03 100.32,329.50 C101.73,324.97 101.73,333.33 103.69,341.00 C105.66,348.67 109.31,360.10 112.12,375.50 C114.93,390.90 117.74,410.92 120.55,433.40 C123.36,455.88 126.17,489.27 128.98,510.40 C131.78,531.53 135.16,548.97 137.40,560.20 C139.65,571.43 141.62,574.87 142.46,577.80" fill="none" stroke="#ff00ff" stroke-width="0.65" stroke-dasharray="2.5,1.5"/>
<path d="M142.46,577.80 L142.46,328.50" fill="none" stroke="#ff00ff" stroke-width="0.45"/>
<path d="M142.46,328.50 C143.02,330.37 143.86,334.15 145.83,339.70 C147.80,345.25 151.45,354.85 154.26,361.80 C157.07,368.75 159.88,375.18 162.69,381.40 C165.49,387.62 168.30,393.42 171.11,399.10 C173.92,404.78 176.73,410.13 179.54,415.50 C182.35,420.87 185.16,426.15 187.97,431.30 C190.78,436.45 193.59,441.28 196.40,446.40 C199.20,451.52 202.01,456.75 204.82,462.00 C207.63,467.25 210.44,472.87 213.25,477.90 C216.06,482.93 218.87,487.23 221.68,492.20 C224.49,497.17 227.30,502.30 230.10,507.70 C232.91,513.10 235.72,520.07 238.53,524.60 C241.34,529.13 244.15,534.47 246.96,534.90 C249.77,535.33 252.58,527.37 255.39,527.20 C258.20,527.03 261.01,530.00 263.81,533.90 C266.62,537.80 269.43,545.25 272.24,550.60 C275.05,555.95 278.11,561.47 280.67,566.00 C283.23,570.53 286.43,575.83 287.58,577.80" fill="none" stroke="#ff00ff" stroke-width="0.65"/>
<path d="M287.58,577.80 L287.58,328.50" fill="none" stroke="#ff00ff" stroke-width="0.45"/>
<path d="M287.58,328.50 C287.83,328.80 287.44,327.55 289.10,330.30 C290.75,333.05 294.72,340.45 297.53,345.00 C300.33,349.55 303.14,353.28 305.95,357.60 C308.76,361.92 311.57,366.40 314.38,370.90 C317.19,375.40 320.00,380.50 322.81,384.60 C325.62,388.70 328.43,391.60 331.24,395.50 C334.04,399.40 336.85,403.37 339.66,408.00 C342.47,412.63 345.28,418.63 348.09,423.30 C350.90,427.97 353.71,431.62 356.52,436.00 C359.33,440.38 362.14,445.23 364.95,449.60 C367.75,453.97 370.56,458.15 373.37,462.20 C376.18,466.25 380.40,471.95 381.80,473.90" fill="none" stroke="#ff00ff" stroke-width="0.65"/>
<polygon points="40.1,500.4 47.5,496.4 47.5,504.4" fill="#ff00ff"/>
<polygon points="48.5,509.5 55.9,505.5 55.9,513.5" fill="#ff00ff"/>
<polygon points="57.0,525.3 64.4,521.3 64.4,529.3" fill="#ff00ff"/>
<polygon points="65.4,537.5 72.8,533.5 72.8,541.5" fill="#ff00ff"/>
<polygon points="73.8,561.0 81.2,557.0 81.2,565.0" fill="#ff00ff"/>
<polygon points="82.2,344.0 89.6,340.0 89.6,348.0" fill="#ff00ff"/>
<polygon points="90.7,368.2 98.1,364.2 98.1,372.2" fill="#ff00ff"/>
<polygon points="99.1,341.0 106.5,337.0 106.5,345.0" fill="#ff00ff"/>
<polygon points="107.5,375.5 114.9,371.5 114.9,379.5" fill="#ff00ff"/>
<polygon points="115.9,433.4 123.3,429.4 123.3,437.4" fill="#ff00ff"/>
<polygon points="124.4,510.4 131.8,506.4 131.8,514.4" fill="#ff00ff"/>
<polygon points="132.8,560.2 140.2,556.2 140.2,564.2" fill="#ff00ff"/>
<polygon points="141.2,339.7 148.6,335.7 148.6,343.7" fill="#ff00ff"/>
<polygon points="149.7,361.8 157.1,357.8 157.1,365.8" fill="#ff00ff"/>
<polygon points="158.1,381.4 165.5,377.4 165.5,385.4" fill="#ff00ff"/>
<polygon points="166.5,399.1 173.9,395.1 173.9,403.1" fill="#ff00ff"/>
<polygon points="174.9,415.5 182.3,411.5 182.3,419.5" fill="#ff00ff"/>
<polygon points="183.4,431.3 190.8,427.3 190.8,435.3" fill="#ff00ff"/>
<polygon points="191.8,446.4 199.2,442.4 199.2,450.4" fill="#ff00ff"/>
<polygon points="200.2,462.0 207.6,458.0 207.6,466.0" fill="#ff00ff"/>
<polygon points="208.7,477.9 216.1,473.9 216.1,481.9" fill="#ff00ff"/>
<polygon points="217.1,492.2 224.5,488.2 224.5,496.2" fill="#ff00ff"/>
<polygon points="225.5,507.7 232.9,503.7 232.9,511.7" fill="#ff00ff"/>
<polygon points="233.9,524.6 241.3,520.6 241.3,528.6" fill="#ff00ff"/>
<polygon points="242.4,534.9 249.8,530.9 249.8,538.9" fill="#ff00ff"/>
<polygon points="250.8,527.2 258.2,523.2 258.2,531.2" fill="#ff00ff"/>
<polygon points="259.2,533.9 266.6,529.9 266.6,537.9" fill="#ff00ff"/>
<polygon points="267.6,550.6 275.0,546.6 275.0,554.6" fill="#ff00ff"/>
<polygon points="276.1,566.0 283.5,562.0 283.5,570.0" fill="#ff00ff"/>
<polygon points="284.5,330.3 291.9,326.3 291.9,334.3" fill="#ff00ff"/>
<polygon points="292.9,345.0 300.3,341.0 300.3,349.0" fill="#ff00ff"/>
<polygon points="301.4,357.6 308.8,353.6 308.8,361.6" fill="#ff00ff"/>
<polygon points="309.8,370.9 317.2,366.9 317.2,374.9" fill="#ff00ff"/>
<polygon points="318.2,384.6 325.6,380.6 325.6,388.6" fill="#ff00ff"/>
<polygon points="326.6,395.5 334.0,391.5 334.0,399.5" fill="#ff00ff"/>
<polygon points="335.1,408.0 342.5,404.0 342.5,412.0" fill="#ff00ff"/>
<polygon points="343.5,423.3 350.9,419.3 350.9,427.3" fill="#ff00ff"/>
<polygon points="351.9,436.0 359.3,432.0 359.3,440.0" fill="#ff00ff"/>
<polygon points="360.3,449.6 367.7,445.6 367.7,453.6" fill="#ff00ff"/>
<polygon points="368.8,462.2 376.2,458.2 376.2,466.2" fill="#ff00ff"/>
<polygon points="377.2,473.9 384.6,469.9 384.6,477.9" fill="#ff00ff"/>
<path d="M44.70,471.60 C46.10,473.70 50.32,479.63 53.13,484.20 C55.94,488.77 58.75,493.57 61.55,499.00 C64.36,504.43 67.17,511.02 69.98,516.80 C72.79,522.58 75.60,528.60 78.41,533.70 C81.22,538.80 84.03,542.67 86.84,547.40 C89.65,552.13 92.74,557.03 95.26,562.10 C97.79,567.17 100.88,575.18 102.01,577.80" fill="none" stroke="#808000" stroke-width="0.65"/>
<path d="M102.01,577.80 L102.01,328.50" fill="none" stroke="#808000" stroke-width="0.45"/>
<path d="M102.01,328.50 C102.29,329.03 102.01,327.32 103.69,331.70 C105.38,336.08 109.31,347.75 112.12,354.80 C114.93,361.85 119.14,370.80 120.55,374.00" fill="none" stroke="#808000" stroke-width="0.65"/>
<path d="M120.55,374.00 C121.25,374.33 123.36,380.83 124.76,376.00 C126.17,371.17 127.71,352.75 128.98,345.00 C130.24,337.25 130.94,331.43 132.35,329.50 C133.75,327.57 136.56,332.75 137.40,333.40" fill="none" stroke="#808000" stroke-width="0.65" stroke-dasharray="2.5,1.5"/>
<path d="M137.40,333.40 C138.81,336.57 143.02,345.73 145.83,352.40 C148.64,359.07 151.45,366.88 154.26,373.40 C157.07,379.92 159.88,386.15 162.69,391.50 C165.49,396.85 168.30,400.67 171.11,405.50 C173.92,410.33 176.73,415.75 179.54,420.50 C182.35,425.25 185.16,429.42 187.97,434.00 C190.78,438.58 193.59,443.40 196.40,448.00 C199.20,452.60 202.01,457.27 204.82,461.60 C207.63,465.93 210.44,469.85 213.25,474.00 C216.06,478.15 218.87,482.27 221.68,486.50 C224.49,490.73 227.30,495.08 230.10,499.40 C232.91,503.72 235.72,508.20 238.53,512.40 C241.34,516.60 244.15,520.63 246.96,524.60 C249.77,528.57 252.58,532.10 255.39,536.20 C258.20,540.30 261.01,545.07 263.81,549.20 C266.62,553.33 269.43,557.00 272.24,561.00 C275.05,565.00 278.62,570.40 280.67,573.20 C282.72,576.00 283.90,577.03 284.55,577.80" fill="none" stroke="#808000" stroke-width="0.65"/>
<path d="M284.55,577.80 L284.55,328.50" fill="none" stroke="#808000" stroke-width="0.45"/>
<path d="M284.55,328.50 C285.31,329.67 286.93,332.22 289.10,335.50 C291.26,338.78 294.72,343.98 297.53,348.20 C300.33,352.42 303.14,356.67 305.95,360.80 C308.76,364.93 311.57,368.97 314.38,373.00 C317.19,377.03 320.00,381.00 322.81,385.00 C325.62,389.00 328.43,393.00 331.24,397.00 C334.04,401.00 336.85,405.10 339.66,409.00 C342.47,412.90 345.28,416.57 348.09,420.40 C350.90,424.23 353.71,427.78 356.52,432.00 C359.33,436.22 362.14,441.47 364.95,445.70 C367.75,449.93 370.56,453.52 373.37,457.40 C376.18,461.28 380.40,467.07 381.80,469.00" fill="none" stroke="#808000" stroke-width="0.65"/>
<polygon points="49.3,471.6 41.9,467.6 41.9,475.6" fill="#808000"/>
<polygon points="57.7,484.2 50.3,480.2 50.3,488.2" fill="#808000"/>
<polygon points="66.2,499.0 58.8,495.0 58.8,503.0" fill="#808000"/>
<polygon points="74.6,516.8 67.2,512.8 67.2,520.8" fill="#808000"/>
<polygon points="83.0,533.7 75.6,529.7 75.6,537.7" fill="#808000"/>
<polygon points="91.4,547.4 84.0,543.4 84.0,551.4" fill="#808000"/>
<polygon points="99.9,562.1 92.5,558.1 92.5,566.1" fill="#808000"/>
<polygon points="108.3,331.7 100.9,327.7 100.9,335.7" fill="#808000"/>
<polygon points="116.7,354.8 109.3,350.8 109.3,358.8" fill="#808000"/>
<polygon points="125.1,374.0 117.7,370.0 117.7,378.0" fill="#808000"/>
<polygon points="133.6,345.0 126.2,341.0 126.2,349.0" fill="#808000"/>
<polygon points="142.0,333.4 134.6,329.4 134.6,337.4" fill="#808000"/>
<polygon points="150.4,352.4 143.0,348.4 143.0,356.4" fill="#808000"/>
<polygon points="158.9,373.4 151.5,369.4 151.5,377.4" fill="#808000"/>
<polygon points="167.3,391.5 159.9,387.5 159.9,395.5" fill="#808000"/>
<polygon points="175.7,405.5 168.3,401.5 168.3,409.5" fill="#808000"/>
<polygon points="184.1,420.5 176.7,416.5 176.7,424.5" fill="#808000"/>
<polygon points="192.6,434.0 185.2,430.0 185.2,438.0" fill="#808000"/>
<polygon points="201.0,448.0 193.6,444.0 193.6,452.0" fill="#808000"/>
<polygon points="209.4,461.6 202.0,457.6 202.0,465.6" fill="#808000"/>
<polygon points="217.8,474.0 210.4,470.0 210.4,478.0" fill="#808000"/>
<polygon points="226.3,486.5 218.9,482.5 218.9,490.5" fill="#808000"/>
<polygon points="234.7,499.4 227.3,495.4 227.3,503.4" fill="#808000"/>
<polygon points="243.1,512.4 235.7,508.4 235.7,516.4" fill="#808000"/>
<polygon points="251.6,524.6 244.2,520.6 244.2,528.6" fill="#808000"/>
<polygon points="260.0,536.2 252.6,532.2 252.6,540.2" fill="#808000"/>
<polygon points="268.4,549.2 261.0,545.2 261.0,553.2" fill="#808000"/>
<polygon points="276.8,561.0 269.4,557.0 269.4,565.0" fill="#808000"/>
<polygon points="285.3,573.2 277.9,569.2 277.9,577.2" fill="#808000"/>
<polygon points="293.7,335.5 286.3,331.5 286.3,339.5" fill="#808000"/>
<polygon points="302.1,348.2 294.7,344.2 294.7,352.2" fill="#808000"/>
<polygon points="310.6,360.8 303.2,356.8 303.2,364.8" fill="#808000"/>
<polygon points="319.0,373.0 311.6,369.0 311.6,377.0" fill="#808000"/>
<polygon points="327.4,385.0 320.0,381.0 320.0,389.0" fill="#808000"/>
<polygon points="335.8,397.0 328.4,393.0 328.4,401.0" fill="#808000"/>
<polygon points="344.3,409.0 336.9,405.0 336.9,413.0" fill="#808000"/>
<polygon points="352.7,420.4 345.3,416.4 345.3,424.4" fill="#808000"/>
<polygon points="361.1,432.0 353.7,428.0 353.7,436.0" fill="#808000"/>
<polygon points="369.5,445.7 362.1,441.7 362.1,449.7" fill="#808000"/>
<polygon points="378.0,457.4 370.6,453.4 370.6,461.4" fill="#808000"/>
<polygon points="386.4,469.0 379.0,465.0 379.0,473.0" fill="#808000"/>
</g>
<path d="M40.5,4.0 V257.5 H382.1" fill="none" stroke="#333" stroke-width="1.25"/>
<line x1="35.0" y1="4.5" x2="40.5" y2="4.5" stroke="#333" stroke-width="1.15"/>
<text x="32" y="7.4" font-family="Liberation Serif" font-size="10.5" text-anchor="end" fill="#000">0</text>
<line x1="35.0" y1="67.75" x2="40.5" y2="67.75" stroke="#333" stroke-width="1.15"/>
<text x="32" y="70.7" font-family="Liberation Serif" font-size="10.5" text-anchor="end" fill="#000">-5</text>
<line x1="35.0" y1="131.0" x2="40.5" y2="131.0" stroke="#333" stroke-width="1.15"/>
<text x="32" y="133.9" font-family="Liberation Serif" font-size="10.5" text-anchor="end" fill="#000">-10</text>
<line x1="35.0" y1="194.25" x2="40.5" y2="194.25" stroke="#333" stroke-width="1.15"/>
<text x="32" y="197.2" font-family="Liberation Serif" font-size="10.5" text-anchor="end" fill="#000">-15</text>
<line x1="35.0" y1="257.5" x2="40.5" y2="257.5" stroke="#333" stroke-width="1.15"/>
<text x="32" y="260.4" font-family="Liberation Serif" font-size="10.5" text-anchor="end" fill="#000">-20</text>
<line x1="37.5" y1="36.125" x2="40.5" y2="36.125" stroke="#333" stroke-width="1.15"/>
<line x1="37.5" y1="99.375" x2="40.5" y2="99.375" stroke="#333" stroke-width="1.15"/>
<line x1="37.5" y1="162.625" x2="40.5" y2="162.625" stroke="#333" stroke-width="1.15"/>
<line x1="37.5" y1="225.875" x2="40.5" y2="225.875" stroke="#333" stroke-width="1.15"/>
<line x1="40.5" y1="257.5" x2="40.5" y2="263.0" stroke="#333" stroke-width="1.15"/>
<text x="40.5" y="274" font-family="Liberation Serif" font-size="10.5" text-anchor="middle" fill="#000">8</text>
<line x1="125.8" y1="257.5" x2="125.8" y2="263.0" stroke="#333" stroke-width="1.15"/>
<text x="125.8" y="274" font-family="Liberation Serif" font-size="10.5" text-anchor="middle" fill="#000">9</text>
<line x1="211.1" y1="257.5" x2="211.1" y2="263.0" stroke="#333" stroke-width="1.15"/>
<text x="211.1" y="274" font-family="Liberation Serif" font-size="10.5" text-anchor="middle" fill="#000">10</text>
<line x1="296.3" y1="257.5" x2="296.3" y2="263.0" stroke="#333" stroke-width="1.15"/>
<text x="296.3" y="274" font-family="Liberation Serif" font-size="10.5" text-anchor="middle" fill="#000">11</text>
<line x1="381.6" y1="257.5" x2="381.6" y2="263.0" stroke="#333" stroke-width="1.15"/>
<text x="381.6" y="274" font-family="Liberation Serif" font-size="10.5" text-anchor="middle" fill="#000">12</text>
<line x1="83.1" y1="257.5" x2="83.1" y2="260.5" stroke="#333" stroke-width="1.15"/>
<line x1="168.4" y1="257.5" x2="168.4" y2="260.5" stroke="#333" stroke-width="1.15"/>
<line x1="253.7" y1="257.5" x2="253.7" y2="260.5" stroke="#333" stroke-width="1.15"/>
<line x1="339.0" y1="257.5" x2="339.0" y2="260.5" stroke="#333" stroke-width="1.15"/>
<text x="212" y="294" font-family="Liberation Serif" stroke="#000" stroke-width="0.25" font-size="12.7" text-anchor="middle" fill="#000">Frequency (GHz)</text>
<text transform="translate(9.5,139.8) rotate(-90)" font-family="Liberation Serif" stroke="#000" stroke-width="0.25" font-size="12.7" text-anchor="middle" fill="#000">Magnitude (dB)</text>
<text x="0.4" y="10.2" font-family="Liberation Serif" font-size="20.5" font-weight="bold" fill="#000">a</text>
<path d="M44.7,328.0 V577.8 H382.3" fill="none" stroke="#333" stroke-width="1.25"/>
<line x1="39.2" y1="328.5" x2="44.7" y2="328.5" stroke="#333" stroke-width="1.15"/>
<text x="36.5" y="331.4" font-family="Liberation Serif" font-size="10.5" text-anchor="end" fill="#000">180</text>
<line x1="39.2" y1="390.8" x2="44.7" y2="390.8" stroke="#333" stroke-width="1.15"/>
<text x="36.5" y="393.7" font-family="Liberation Serif" font-size="10.5" text-anchor="end" fill="#000">90</text>
<line x1="39.2" y1="453.1" x2="44.7" y2="453.1" stroke="#333" stroke-width="1.15"/>
<text x="36.5" y="456.0" font-family="Liberation Serif" font-size="10.5" text-anchor="end" fill="#000">0</text>
<line x1="39.2" y1="515.5" x2="44.7" y2="515.5" stroke="#333" stroke-width="1.15"/>
<text x="36.5" y="518.4" font-family="Liberation Serif" font-size="10.5" text-anchor="end" fill="#000">-90</text>
<line x1="39.2" y1="577.8" x2="44.7" y2="577.8" stroke="#333" stroke-width="1.15"/>
<text x="36.5" y="580.7" font-family="Liberation Serif" font-size="10.5" text-anchor="end" fill="#000">-180</text>
<line x1="41.7" y1="359.7" x2="44.7" y2="359.7" stroke="#333" stroke-width="1.15"/>
<line x1="41.7" y1="422.0" x2="44.7" y2="422.0" stroke="#333" stroke-width="1.15"/>
<line x1="41.7" y1="484.3" x2="44.7" y2="484.3" stroke="#333" stroke-width="1.15"/>
<line x1="41.7" y1="546.6" x2="44.7" y2="546.6" stroke="#333" stroke-width="1.15"/>
<line x1="44.7" y1="577.8" x2="44.7" y2="583.3" stroke="#333" stroke-width="1.15"/>
<text x="44.7" y="594.5" font-family="Liberation Serif" font-size="10.5" text-anchor="middle" fill="#000">8</text>
<line x1="129.0" y1="577.8" x2="129.0" y2="583.3" stroke="#333" stroke-width="1.15"/>
<text x="129.0" y="594.5" font-family="Liberation Serif" font-size="10.5" text-anchor="middle" fill="#000">9</text>
<line x1="213.2" y1="577.8" x2="213.2" y2="583.3" stroke="#333" stroke-width="1.15"/>
<text x="213.2" y="594.5" font-family="Liberation Serif" font-size="10.5" text-anchor="middle" fill="#000">10</text>
<line x1="297.5" y1="577.8" x2="297.5" y2="583.3" stroke="#333" stroke-width="1.15"/>
<text x="297.5" y="594.5" font-family="Liberation Serif" font-size="10.5" text-anchor="middle" fill="#000">11</text>
<line x1="381.8" y1="577.8" x2="381.8" y2="583.3" stroke="#333" stroke-width="1.15"/>
<text x="381.8" y="594.5" font-family="Liberation Serif" font-size="10.5" text-anchor="middle" fill="#000">12</text>
<line x1="86.8" y1="577.8" x2="86.8" y2="580.8" stroke="#333" stroke-width="1.15"/>
<line x1="171.1" y1="577.8" x2="171.1" y2="580.8" stroke="#333" stroke-width="1.15"/>
<line x1="255.4" y1="577.8" x2="255.4" y2="580.8" stroke="#333" stroke-width="1.15"/>
<line x1="339.7" y1="577.8" x2="339.7" y2="580.8" stroke="#333" stroke-width="1.15"/>
<text x="213.8" y="615" font-family="Liberation Serif" stroke="#000" stroke-width="0.25" font-size="12.7" text-anchor="middle" fill="#000">Frequency (GHz)</text>
<text transform="translate(9.7,461) rotate(-90)" font-family="Liberation Serif" stroke="#000" stroke-width="0.25" font-size="12.7" text-anchor="middle" fill="#000">Phase (deg)</text>
<text x="1.5" y="338.5" font-family="Liberation Serif" font-size="21" font-weight="bold" fill="#000">b</text>
<rect x="305.5" y="143.5" width="59.0" height="95.0" fill="#fff" stroke="#888" stroke-width="1"/>
<line x1="364.5" y1="143.5" x2="364.5" y2="238.5" stroke="#ccc" stroke-width="1"/>
<line x1="307.5" y1="153" x2="336" y2="153" stroke="#d8d8d8" stroke-width="1"/>
<rect x="318.9" y="150.4" width="5.2" height="5.2" fill="#000000"/>
<text x="337.5" y="157.9" font-family="Liberation Serif" font-size="12.5" fill="#000">ξ=20</text>
<line x1="307.5" y1="168.8" x2="336" y2="168.8" stroke="#ff6666" stroke-width="1"/>
<circle cx="321.5" cy="168.8" r="3.2" fill="#ff0000"/>
<text x="337.5" y="173.7" font-family="Liberation Serif" font-size="12.5" fill="#000">ξ=15</text>
<line x1="307.5" y1="184.8" x2="336" y2="184.8" stroke="#0000ff" stroke-width="1"/>
<polygon points="321.5,180.8 317.5,188.2 325.5,188.2" fill="#0000ff"/>
<text x="337.5" y="189.7" font-family="Liberation Serif" font-size="12.5" fill="#000">ξ=10</text>
<line x1="307.5" y1="200.8" x2="336" y2="200.8" stroke="#66b0b0" stroke-width="1"/>
<polygon points="321.5,204.8 317.5,197.4 325.5,197.4" fill="#008080"/>
<text x="337.5" y="205.7" font-family="Liberation Serif" font-size="12.5" fill="#000">ξ=5</text>
<line x1="307.5" y1="216.8" x2="336" y2="216.8" stroke="#ff00ff" stroke-width="1"/>
<polygon points="316.9,216.8 324.3,212.8 324.3,220.8" fill="#ff00ff"/>
<text x="337.5" y="221.7" font-family="Liberation Serif" font-size="12.5" fill="#000">ξ=2</text>
<line x1="307.5" y1="232.6" x2="336" y2="232.6" stroke="#aaa870" stroke-width="1"/>
<polygon points="326.1,232.6 318.7,228.6 318.7,236.6" fill="#808000"/>
<text x="337.5" y="237.5" font-family="Liberation Serif" font-size="12.5" fill="#000">ξ=1</text>
<rect x="297.5" y="474.5" width="58.0" height="94.0" fill="#fff" stroke="#888" stroke-width="1"/>
<line x1="355.5" y1="474.5" x2="355.5" y2="568.5" stroke="#ccc" stroke-width="1"/>
<line x1="299.5" y1="483.6" x2="327" y2="483.6" stroke="#444" stroke-width="1"/>
<rect x="310.9" y="481.2" width="4.8" height="4.8" fill="#000000"/>
<text x="329.5" y="487.8" font-family="Liberation Serif" font-size="12.5" fill="#000">ξ=20</text>
<line x1="299.5" y1="499" x2="327" y2="499" stroke="#ffd0d0" stroke-width="1"/>
<circle cx="313.3" cy="499.0" r="3.2" fill="#ff0000"/>
<text x="329.5" y="503.2" font-family="Liberation Serif" font-size="12.5" fill="#000">ξ=15</text>
<line x1="299.5" y1="514.8" x2="327" y2="514.8" stroke="#7070ff" stroke-width="1"/>
<polygon points="313.3,510.8 309.3,518.2 317.3,518.2" fill="#0000ff"/>
<text x="329.5" y="519.0" font-family="Liberation Serif" font-size="12.5" fill="#000">ξ=10</text>
<line x1="299.5" y1="530.5" x2="327" y2="530.5" stroke="#40a0a0" stroke-width="1"/>
<polygon points="313.3,534.5 309.3,527.1 317.3,527.1" fill="#008080"/>
<text x="329.5" y="534.7" font-family="Liberation Serif" font-size="12.5" fill="#000">ξ=5</text>
<line x1="299.5" y1="546.2" x2="327" y2="546.2" stroke="#ffc0ff" stroke-width="1"/>
<polygon points="308.7,546.2 316.1,542.2 316.1,550.2" fill="#ff00ff"/>
<text x="329.5" y="550.4" font-family="Liberation Serif" font-size="12.5" fill="#000">ξ=2</text>
<line x1="299.5" y1="561.6" x2="327" y2="561.6" stroke="#a0a070" stroke-width="1"/>
<polygon points="317.9,561.6 310.5,557.6 310.5,565.6" fill="#808000"/>
<text x="329.5" y="565.8" font-family="Liberation Serif" font-size="12.5" fill="#000">ξ=1</text>
</svg>
</body></html>
